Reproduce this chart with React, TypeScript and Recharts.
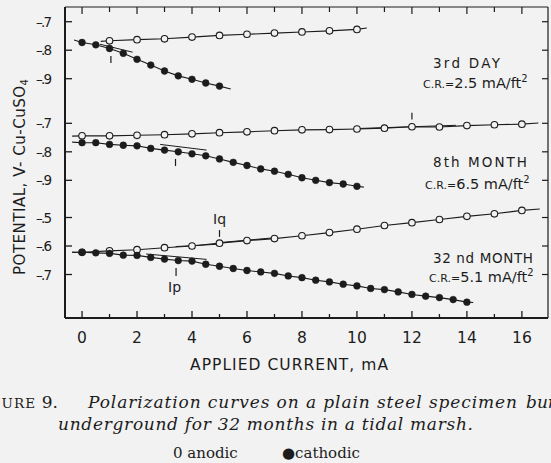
import React from 'react';
import { ComposedChart, Line, XAxis, YAxis, ReferenceLine } from 'recharts';

const W = 551;
const H = 463;
const BG = '#f2f2f2';
const INK = '#1c1c1c';
const SANS = '"DejaVu Sans", "Liberation Sans", sans-serif';
const SERIF = '"DejaVu Serif", "Liberation Serif", serif';

// Applied current, mA
const day3AnodicCurrent = [1, 2, 3, 4, 5, 6, 7, 8, 9, 10];
const day3CathodicCurrent = [0, 0.5, 1, 1.5, 2, 2.5, 3, 3.5, 4, 4.5, 5];
const month8AnodicCurrent = [0, 1, 2, 3, 4, 5, 6, 7, 8, 9, 10, 11, 12, 13, 14, 15, 16];
const month8CathodicCurrent = [0, 0.5, 1, 1.5, 2, 2.5, 3, 3.5, 4, 4.5, 5, 5.5, 6, 6.5, 7, 7.5, 8, 8.5, 9, 9.5, 10];
const month32AnodicCurrent = [0, 1, 2, 3, 4, 5, 6, 7, 8, 9, 10, 11, 12, 13, 14, 15, 16];
const month32CathodicCurrent = [0, 0.5, 1, 1.5, 2, 2.5, 3, 3.5, 4, 4.5, 5, 5.5, 6, 6.5, 7, 7.5, 8, 8.5, 9, 9.5, 10, 10.5, 11, 11.5, 12, 12.5, 13, 13.5, 14];

// Potential, V vs Cu-CuSO4
const day3AnodicPotential = [-0.767, -0.763, -0.76, -0.754, -0.748, -0.744, -0.74, -0.736, -0.732, -0.727];
const day3CathodicPotential = [-0.773, -0.781, -0.794, -0.811, -0.832, -0.852, -0.873, -0.89, -0.902, -0.915, -0.926];
const month8AnodicPotential = [-0.744, -0.744, -0.742, -0.74, -0.737, -0.733, -0.73, -0.726, -0.723, -0.722, -0.72, -0.717, -0.712, -0.713, -0.708, -0.705, -0.703];
const month8CathodicPotential = [-0.768, -0.768, -0.774, -0.777, -0.779, -0.788, -0.794, -0.8, -0.807, -0.814, -0.825, -0.837, -0.848, -0.86, -0.868, -0.879, -0.891, -0.9, -0.908, -0.913, -0.921];
const month32AnodicPotential = [-0.622, -0.617, -0.613, -0.606, -0.6, -0.59, -0.581, -0.574, -0.564, -0.553, -0.541, -0.528, -0.518, -0.507, -0.496, -0.487, -0.475];
const month32CathodicPotential = [-0.622, -0.624, -0.626, -0.632, -0.633, -0.64, -0.646, -0.651, -0.653, -0.664, -0.671, -0.679, -0.686, -0.691, -0.696, -0.705, -0.711, -0.72, -0.726, -0.734, -0.74, -0.749, -0.753, -0.761, -0.77, -0.776, -0.781, -0.788, -0.797];

// Where each hand-drawn curve starts and stops: [current, potential]
const day3AnodicCurveEnds = [[0.68, -0.769], [10.36, -0.722]];
const day3CathodicCurveEnds = [[-0.29, -0.764], [5.41, -0.936]];
const month8AnodicCurveEnds = [[-0.36, -0.745], [16.6, -0.699]];
const month8CathodicCurveEnds = [[-0.36, -0.766], [10.25, -0.924]];
const month32AnodicCurveEnds = [[-0.36, -0.623], [16.65, -0.47]];
const month32CathodicCurveEnds = [[-0.36, -0.621], [14.23, -0.798]];

// Tangent segments: [current1, potential1, current2, potential2]
const day3Tangents = [[0.65, -0.779, 1.84, -0.807]];
const month8Tangents = [[2.84, -0.774, 4.53, -0.794], [10.1, -0.718, 13.6, -0.707]];
const month32Tangents = [[2.33, -0.628, 4.53, -0.647], [3.4, -0.602, 5.1, -0.593], [5.0, -0.588, 7.0, -0.571]];

// Break-point tick marks: [current, upper potential, lower potential]
const day3Breaks = [[1.05, -0.82, -0.845]];
const month8Breaks = [[3.4, -0.825, -0.85], [12, -0.663, -0.687]];
const month32Breaks = [[5, -0.544, -0.568], [3.42, -0.677, -0.705]];

// Axis ticks
const currentTicks = [0, 1, 2, 3, 4, 5, 6, 7, 8, 9, 10, 11, 12, 13, 14, 15, 16];
const day3PotentialTicks = [-0.7, -0.8, -0.9];
const month8PotentialTicks = [-0.7, -0.8, -0.9];
const month32PotentialTicks = [-0.5, -0.6, -0.7];

// The three panels share one vertical axis; each is shifted by this many volts
const day3Offset = 0;
const month8Offset = -0.3565;
const month32Offset = -0.887;

const X_DOMAIN: [number, number] = [-0.62, 16.95];
const Y_DOMAIN: [number, number] = [-1.7396, -0.6484];

type Pt = { x: number; p: number };

const toPoints = (cur: number[], pot: number[], off: number): Pt[] =>
  cur.map((x, i) => ({ x, p: pot[i] + off }));

const toCurve = (cur: number[], pot: number[], ends: number[][], off: number): Pt[] => [
  { x: ends[0][0], p: ends[0][1] + off },
  ...toPoints(cur, pot, off),
  { x: ends[1][0], p: ends[1][1] + off },
];

const panels = [
  {
    key: 'day3',
    off: day3Offset,
    anodic: [day3AnodicCurrent, day3AnodicPotential, day3AnodicCurveEnds],
    cathodic: [day3CathodicCurrent, day3CathodicPotential, day3CathodicCurveEnds],
    tangents: day3Tangents,
    breaks: day3Breaks,
  },
  {
    key: 'month8',
    off: month8Offset,
    anodic: [month8AnodicCurrent, month8AnodicPotential, month8AnodicCurveEnds],
    cathodic: [month8CathodicCurrent, month8CathodicPotential, month8CathodicCurveEnds],
    tangents: month8Tangents,
    breaks: month8Breaks,
  },
  {
    key: 'month32',
    off: month32Offset,
    anodic: [month32AnodicCurrent, month32AnodicPotential, month32AnodicCurveEnds],
    cathodic: [month32CathodicCurrent, month32CathodicPotential, month32CathodicCurveEnds],
    tangents: month32Tangents,
    breaks: month32Breaks,
  },
] as const;

const potentialTicks = [
  ...day3PotentialTicks.map((v) => ({ value: v + day3Offset, v })),
  ...month8PotentialTicks.map((v) => ({ value: v + month8Offset, v })),
  ...month32PotentialTicks.map((v) => ({ value: v + month32Offset, v })),
];
const potentialTickValues = potentialTicks.map((t) => t.value);

const LeftTick = (props: any) => {
  const { x, y, payload } = props;
  const t = potentialTicks.reduce((a, b) =>
    Math.abs(b.value - payload.value) < Math.abs(a.value - payload.value) ? b : a
  );
  const digit = Math.round(-t.v * 10);
  return (
    <g>
      <line x1={x} x2={x + 7} y1={y} y2={y} stroke={INK} strokeWidth={1.3} />
      <text
        x={x - 29}
        y={y + 5}
        fontSize={13.5}
        fontFamily={SANS}
        fill={INK}
        style={{ letterSpacing: '-1.8px' }}
      >
        {`–.${digit}`}
      </text>
    </g>
  );
};

const RightTick = (props: any) => {
  const { x, y } = props;
  return <line x1={x} x2={x - 6} y1={y} y2={y} stroke={INK} strokeWidth={1.2} />;
};

const BottomTick = (props: any) => {
  const { x, y, payload } = props;
  const v = payload.value;
  const major = v % 2 === 0;
  return (
    <g>
      <line x1={x} x2={x} y1={y} y2={y - (major ? 7 : 4)} stroke={INK} strokeWidth={1.3} />
      {major && (
        <text x={x} y={y + 25} textAnchor="middle" fontSize={15.5} fontFamily={SANS} fill={INK}>
          {v}
        </text>
      )}
    </g>
  );
};

const TopTick = (props: any) => {
  const { x, y, payload } = props;
  const major = payload.value % 2 === 0;
  return <line x1={x} x2={x} y1={y} y2={y + (major ? 7 : 5)} stroke={INK} strokeWidth={1.2} />;
};

const openDot = { r: 3.3, fill: BG, stroke: INK, strokeWidth: 1.1 };
const filledDot = { r: 3.4, fill: INK, stroke: INK, strokeWidth: 0.5 };

export default function App() {
  return (
    <div
      style={{
        position: 'absolute',
        left: 0,
        top: 0,
        width: W,
        height: H,
        background: BG,
        overflow: 'hidden',
      }}
    >
      <ComposedChart width={W} height={H} margin={{ top: 5, right: 1, bottom: 115, left: 25 }}>
        <XAxis
          dataKey="x"
          type="number"
          domain={X_DOMAIN}
          allowDataOverflow
          ticks={currentTicks}
          interval={0}
          height={30}
          tickSize={0}
          tickMargin={0}
          tickLine={false}
          tick={<BottomTick />}
          axisLine={{ stroke: INK, strokeWidth: 2 }}
        />
        <XAxis
          xAxisId="top"
          orientation="top"
          dataKey="x"
          type="number"
          domain={X_DOMAIN}
          allowDataOverflow
          ticks={currentTicks}
          interval={0}
          height={2}
          tickSize={0}
          tickMargin={0}
          tickLine={false}
          tick={<TopTick />}
          axisLine={{ stroke: INK, strokeWidth: 1.2 }}
        />
        <YAxis
          type="number"
          domain={Y_DOMAIN}
          allowDataOverflow
          ticks={potentialTickValues}
          interval={0}
          width={40}
          tickSize={0}
          tickMargin={0}
          tickLine={false}
          tick={<LeftTick />}
          axisLine={{ stroke: INK, strokeWidth: 2 }}
        />
        <YAxis
          yAxisId="right"
          orientation="right"
          type="number"
          domain={Y_DOMAIN}
          allowDataOverflow
          ticks={potentialTickValues}
          interval={0}
          width={2}
          tickSize={0}
          tickMargin={0}
          tickLine={false}
          tick={<RightTick />}
          axisLine={{ stroke: INK, strokeWidth: 1.2 }}
        />

        {/* keeps the frame axes bound to the same scales */}
        <Line
          xAxisId="top"
          yAxisId="right"
          data={toPoints(day3AnodicCurrent, day3AnodicPotential, day3Offset)}
          dataKey="p"
          stroke="none"
          dot={false}
          activeDot={false}
          isAnimationActive={false}
        />

        {panels.map((pn) =>
          pn.tangents.map((t, i) => (
            <ReferenceLine
              key={`${pn.key}-tan-${i}`}
              segment={[
                { x: t[0], y: t[1] + pn.off },
                { x: t[2], y: t[3] + pn.off },
              ]}
              stroke={INK}
              strokeWidth={1}
              ifOverflow="visible"
            />
          ))
        )}
        {panels.map((pn) =>
          pn.breaks.map((b, i) => (
            <ReferenceLine
              key={`${pn.key}-brk-${i}`}
              segment={[
                { x: b[0], y: b[1] + pn.off },
                { x: b[0], y: b[2] + pn.off },
              ]}
              stroke={INK}
              strokeWidth={1.2}
              ifOverflow="visible"
            />
          ))
        )}

        {panels.map((pn) => (
          <Line
            key={`${pn.key}-a-curve`}
            data={toCurve(pn.anodic[0] as number[], pn.anodic[1] as number[], pn.anodic[2] as number[][], pn.off)}
            dataKey="p"
            stroke={INK}
            strokeWidth={1.1}
            dot={false}
            activeDot={false}
            isAnimationActive={false}
          />
        ))}
        {panels.map((pn) => (
          <Line
            key={`${pn.key}-c-curve`}
            data={toCurve(pn.cathodic[0] as number[], pn.cathodic[1] as number[], pn.cathodic[2] as number[][], pn.off)}
            dataKey="p"
            stroke={INK}
            strokeWidth={1.1}
            dot={false}
            activeDot={false}
            isAnimationActive={false}
          />
        ))}
        {panels.map((pn) => (
          <Line
            key={`${pn.key}-a-pts`}
            data={toPoints(pn.anodic[0] as number[], pn.anodic[1] as number[], pn.off)}
            dataKey="p"
            stroke="none"
            dot={openDot}
            activeDot={false}
            isAnimationActive={false}
          />
        ))}
        {panels.map((pn) => (
          <Line
            key={`${pn.key}-c-pts`}
            data={toPoints(pn.cathodic[0] as number[], pn.cathodic[1] as number[], pn.off)}
            dataKey="p"
            stroke="none"
            dot={filledDot}
            activeDot={false}
            isAnimationActive={false}
          />
        ))}
      </ComposedChart>

      <svg
        width={W}
        height={H}
        style={{ position: 'absolute', left: 0, top: 0, pointerEvents: 'none' }}
      >
        <g fill={INK} fontFamily={SANS}>
          <text
            transform="translate(25,177) rotate(-90)"
            textAnchor="middle"
            fontSize={15}
            textLength={196}
            lengthAdjust="spacing"
          >
            POTENTIAL, V- Cu-CuSO<tspan fontSize={10} dy={3}>4</tspan>
          </text>
          <text x={190} y={370} fontSize={15.5} textLength={198} lengthAdjust="spacing">
            APPLIED CURRENT, mA
          </text>

          <text x={433} y={68} fontSize={13.5} textLength={67} lengthAdjust="spacing">
            3rd DAY
          </text>
          <text x={423} y={88}>
            <tspan fontSize={11}>C.R.=</tspan>
            <tspan fontSize={14.5}>2.5 mA/ft</tspan>
            <tspan fontSize={10} dy={-6}>2</tspan>
          </text>

          <text x={433} y={167} fontSize={13.5} textLength={94} lengthAdjust="spacing">
            8th MONTH
          </text>
          <text x={425} y={189}>
            <tspan fontSize={11}>C.R.=</tspan>
            <tspan fontSize={14.5}>6.5 mA/ft</tspan>
            <tspan fontSize={10} dy={-6}>2</tspan>
          </text>

          <text x={433} y={263} fontSize={13.5} textLength={100} lengthAdjust="spacing">
            32 nd MONTH
          </text>
          <text x={429} y={282}>
            <tspan fontSize={11}>C.R.=</tspan>
            <tspan fontSize={14.5}>5.1 mA/ft</tspan>
            <tspan fontSize={10} dy={-6}>2</tspan>
          </text>

          <text x={213} y={224} fontSize={14}>Iq</text>
          <text x={168} y={292} fontSize={14}>Ip</text>
        </g>

        <g fill={INK} fontFamily={SERIF}>
          <text x={58} y={408} textAnchor="end" fontSize={17}>
            F<tspan fontSize={13.5} letterSpacing={1.2}>IGURE</tspan> 9.
          </text>
          <text x={88} y={408} fontSize={17} fontStyle="italic" textLength={429} lengthAdjust="spacing">
            Polarization curves on a plain steel specimen
          </text>
          <text x={526} y={408} fontSize={17} fontStyle="italic">
            buried
          </text>
          <text x={58} y={430} fontSize={17} fontStyle="italic" textLength={415} lengthAdjust="spacing">
            underground for 32 months in a tidal marsh.
          </text>
          <text x={173} y={458} fontSize={15}>0 anodic</text>
          <text x={282} y={458} fontSize={15}>●cathodic</text>
        </g>
      </svg>
    </div>
  );
}
